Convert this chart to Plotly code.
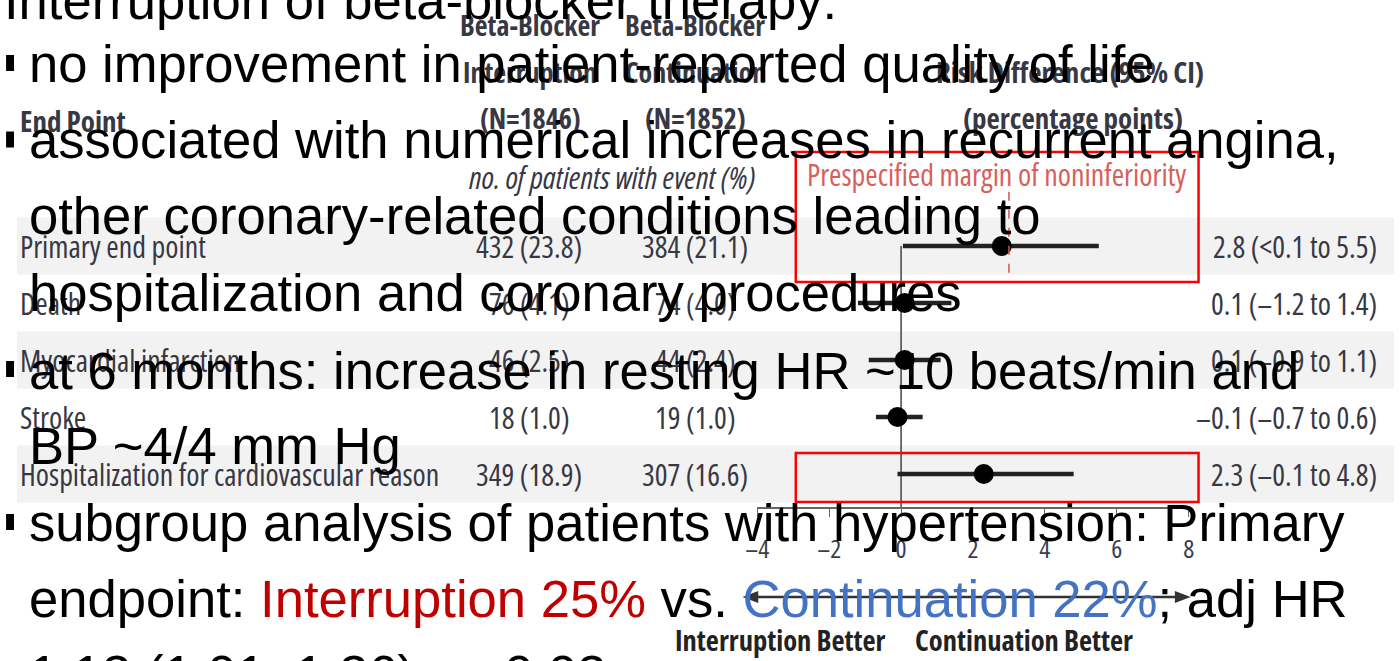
import plotly.graph_objects as go

W, H = 1400, 661

# ---------------- data ----------------
endpoints = ["Primary end point", "Death", "Myocardial infarction", "Stroke",
             "Hospitalization for cardiovascular reason"]
interruption_n = [432, 76, 46, 18, 349]
interruption_pct = [23.8, 4.1, 2.5, 1.0, 18.9]
continuation_n = [384, 74, 44, 19, 307]
continuation_pct = [21.1, 4.0, 2.4, 1.0, 16.6]
risk_diff = [2.8, 0.1, 0.1, -0.1, 2.3]
ci_low = [0.05, -1.2, -0.9, -0.7, -0.1]
ci_high = [5.5, 1.4, 1.1, 0.6, 4.8]
ci_labels = ["2.8 (<0.1 to 5.5)", "0.1 (\u20131.2 to 1.4)", "0.1 (\u20130.9 to 1.1)",
             "\u20130.1 (\u20130.7 to 0.6)", "2.3 (\u20130.1 to 4.8)"]
shaded_rows = [0, 2, 4]
noninferiority_margin = 3
x_ticks = [-4, -2, 0, 2, 4, 6, 8]
x_tick_labels = ["\u20134", "\u20132", "0", "2", "4", "6", "8"]

slide_lines = [
    "Interruption of beta-blocker therapy:",
    "no improvement in patient-reported quality of life",
    "associated with numerical increases in recurrent angina,",
    "other coronary-related conditions leading to",
    "hospitalization and coronary procedures",
    "at 6 months: increase in resting HR ~10 beats/min and",
    "BP ~4/4 mm Hg",
    "subgroup analysis of patients with hypertension: Primary",
    "endpoint: <span style='color:#c00000'>Interruption 25%</span> vs. "
    "<span style='color:#4472c4'>Continuation 22%</span>; adj HR",
    "1.13 (1.01\u20131.26), p=0.03",
]
bullet_lines = [1, 2, 5, 7]

# ---------------- helpers ----------------
def px(x):
    return x / W

def py(y):
    return 1 - y / H

def cond(s):
    return "<span style='font-stretch:condensed'>" + s + "</span>"

ROW0, ROWSTEP = 246, 57
AX_Y = 507
TOP_Y = 150
y_lo = (AX_Y - ROW0) / ROWSTEP
y_hi = (TOP_Y - ROW0) / ROWSTEP

NARROW = "Open Sans, Liberation Sans"
TXT = "#383844"

fig = go.Figure()

fig.add_trace(go.Scatter(
    x=risk_diff, y=list(range(len(endpoints))), mode="markers",
    marker=dict(symbol="circle", size=20, color="black"),
    error_x=dict(type="data", symmetric=False,
                 array=[h - r for h, r in zip(ci_high, risk_diff)],
                 arrayminus=[r - l for r, l in zip(risk_diff, ci_low)],
                 thickness=4.5, width=0, color="#222222"),
    showlegend=False, hoverinfo="skip"))

shapes = []
for r in shaded_rows:
    shapes.append(dict(type="rect", xref="paper", yref="y", x0=px(5), x1=1,
                       y0=r - 0.5, y1=r + 0.5, fillcolor="#f2f2f2",
                       line=dict(width=0), layer="below"))
shapes.append(dict(type="line", xref="x", yref="y", x0=0, x1=0, y0=0, y1=y_lo,
                   line=dict(color="#444", width=1.5), layer="below"))
shapes.append(dict(type="line", xref="x", yref="y", x0=noninferiority_margin,
                   x1=noninferiority_margin, y0=-0.95, y1=0.5,
                   line=dict(color="#d9534f", width=1.5, dash="dash")))
shapes.append(dict(type="rect", xref="paper", yref="paper", x0=px(794), x1=px(1202),
                   y0=py(282), y1=py(152), line=dict(color="#ff0000", width=2.5),
                   fillcolor="rgba(0,0,0,0)"))
shapes.append(dict(type="rect", xref="paper", yref="paper", x0=px(794), x1=px(1202),
                   y0=py(502), y1=py(453), line=dict(color="#ff0000", width=2.5),
                   fillcolor="rgba(0,0,0,0)"))
for i in bullet_lines:
    yc = 63 + (i - 1) * 76.5
    shapes.append(dict(type="rect", xref="paper", yref="paper", x0=px(-6), x1=px(2),
                       y0=py(yc + 8), y1=py(yc - 8), fillcolor="black",
                       line=dict(width=0)))

# direction arrow (line + two heads)
AR_Y, AR_L, AR_R = 597, 740, 1194
shapes.append(dict(type="line", xref="paper", yref="paper", x0=px(AR_L + 8),
                   x1=px(AR_R - 8), y0=py(AR_Y), y1=py(AR_Y),
                   line=dict(color="#333", width=2.5)))
for tip, base in ((AR_L, AR_L + 16), (AR_R, AR_R - 16)):
    path = (f"M {px(tip)} {py(AR_Y)} L {px(base)} {py(AR_Y - 6)} "
            f"L {px(base)} {py(AR_Y + 6)} Z")
    shapes.append(dict(type="path", xref="paper", yref="paper", path=path,
                       fillcolor="#333", line=dict(width=0)))

ann = []
def t(text, x, y, size=26, color=TXT, xanchor="center", bold=False, italic=False,
      family=NARROW, condensed=True):
    s = cond(text) if condensed else text
    if bold:
        s = "<b>" + s + "</b>"
    if italic:
        s = "<i>" + s + "</i>"
    ann.append(dict(text=s, x=px(x), y=py(y), xref="paper", yref="paper",
                    xanchor=xanchor, yanchor="middle", showarrow=False,
                    font=dict(family=family, size=size, color=color)))

# header
t("Beta-Blocker", 525, 25, size=28, bold=True)
t("Beta-Blocker", 692, 25, size=28, bold=True)
t("Interruption", 525, 72, size=28, bold=True)
t("Continuation", 692, 72, size=28, bold=True)
t("(N=1846)", 525, 118, size=28, bold=True)
t("(N=1852)", 692, 118, size=28, bold=True)
t("End Point", 6, 120, size=29, bold=True, xanchor="left")
t("Risk Difference (95% CI)", 1072, 72, size=29, bold=True)
t("(percentage points)", 1075, 118, size=29, bold=True)
t("no. of patients with event (%)", 608, 177, size=31, italic=True)
t("Prespecified margin of noninferiority", 997, 175, size=30, color="#d9605a")

# rows
def row_text(text, x, i, xanchor):
    ann.append(dict(text=cond(text), x=px(x), y=i, xref="paper", yref="y",
                    xanchor=xanchor, yanchor="middle", showarrow=False,
                    font=dict(family=NARROW, size=30, color=TXT)))

for i, name in enumerate(endpoints):
    row_text(name, 6, i, "left")
    row_text(f"{interruption_n[i]} ({interruption_pct[i]:.1f})", 524, i, "center")
    row_text(f"{continuation_n[i]} ({continuation_pct[i]:.1f})", 692, i, "center")
    row_text(ci_labels[i], 1385, i, "right")

t("Interruption Better", 887, 640, size=28.5, bold=True, xanchor="right", color="#222")
t("Continuation Better", 913, 640, size=28.5, bold=True, xanchor="left", color="#222")

# slide text
slide_y = [0, 63, 140, 215, 292, 370, 445, 522, 598, 673]
for i, line in enumerate(slide_lines):
    t(line, 15 if i > 0 else -10, slide_y[i], size=52.6, color="black", xanchor="left",
      family="Liberation Sans, Arial", condensed=False)

fig.update_layout(
    width=W, height=H, autosize=False,
    margin=dict(l=0, r=0, t=0, b=0),
    paper_bgcolor="white", plot_bgcolor="rgba(0,0,0,0)",
    shapes=shapes, annotations=ann,
    xaxis=dict(domain=[px(755), px(1192)], range=[-4, 8], tickvals=x_ticks,
               ticktext=[cond(s) for s in x_tick_labels],
               showgrid=False, zeroline=False, showline=True, linecolor="#666",
               linewidth=1.5, ticks="outside", ticklen=8, tickcolor="#666",
               tickfont=dict(family=NARROW, size=26, color="#3c3c50"),
               ticklabelstandoff=10, fixedrange=True),
    yaxis=dict(domain=[py(AX_Y), py(TOP_Y)], range=[y_lo, y_hi], visible=False,
               fixedrange=True),
)

fig.write_html("out.html", config={"displayModeBar": False},
               post_script="document.body.style.margin='0';")
